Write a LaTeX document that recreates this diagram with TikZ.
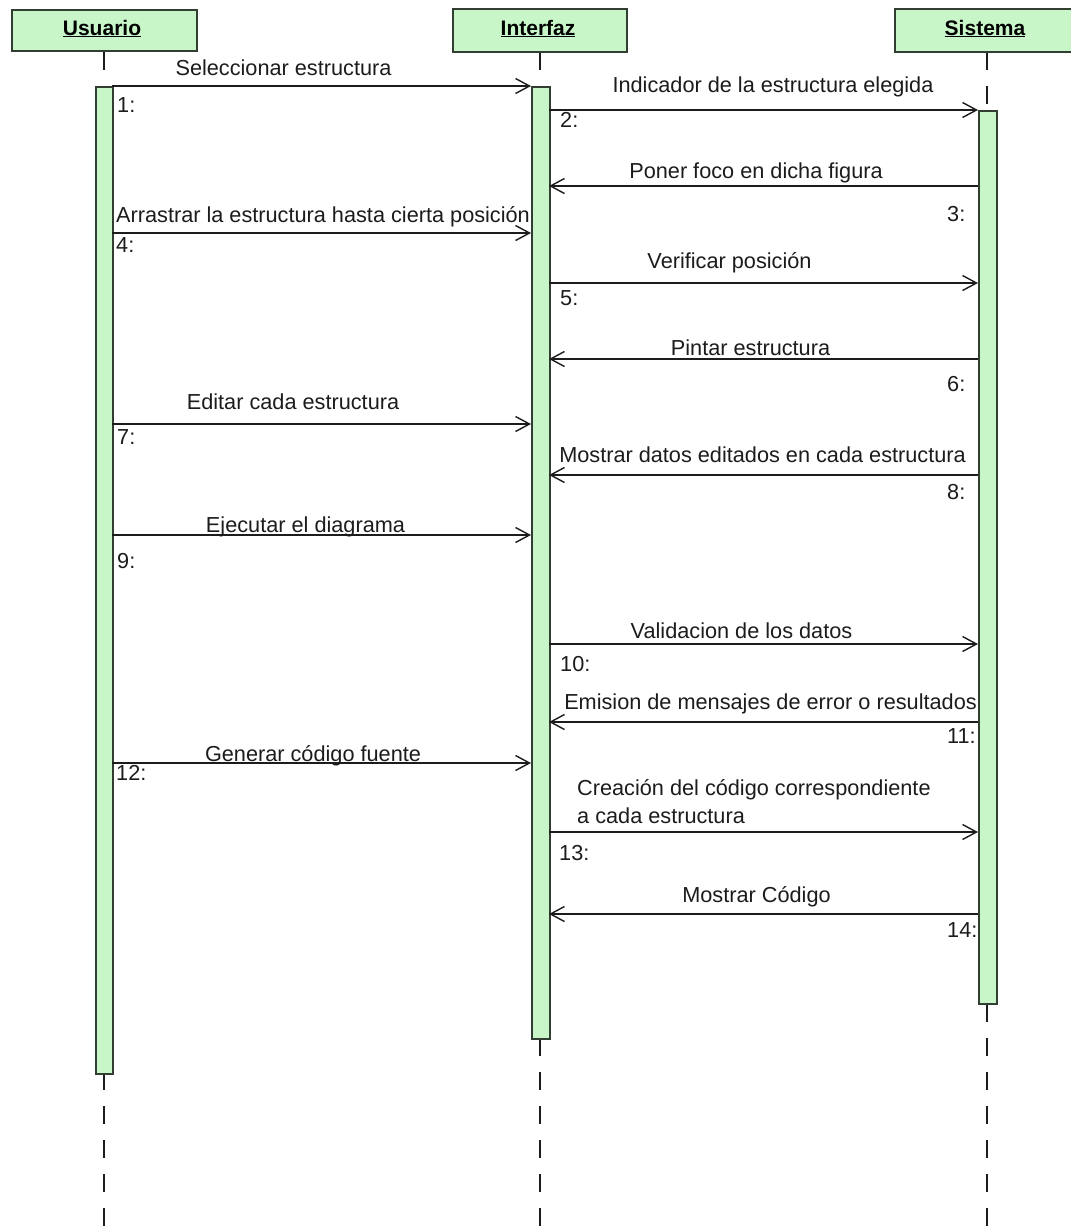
\documentclass[tikz,border=0pt]{standalone}
\usepackage{fontspec}
\setmainfont{Liberation Sans}
\usetikzlibrary{arrows.meta}
\definecolor{mint}{RGB}{200,246,200}
\definecolor{edge}{RGB}{50,62,50}
\definecolor{ink}{RGB}{28,28,28}
\begin{document}
\begin{tikzpicture}[x=1pt,y=-1pt,
  hdr/.style={draw=edge,fill=mint,line width=1.6pt},
  bar/.style={draw=edge,fill=mint,line width=1.6pt},
  life/.style={draw=ink,line width=1.4pt,dash pattern=on 18pt off 16pt},
  msg/.style={draw=ink,line width=1.4pt,-{Straight Barb[length=14pt,width=15pt,line width=1.4pt]}},
  txt/.style={inner sep=0pt,anchor=base,text=ink,font=\fontsize{21.7}{27}\selectfont},
  num/.style={inner sep=0pt,anchor=base west,text=ink,font=\fontsize{21.7}{27}\selectfont},
  htxt/.style={inner sep=0pt,anchor=base,text=black,font=\fontsize{21}{25}\selectfont\bfseries}]
\useasboundingbox (0,0) rectangle (1071,1232);
\fill[white] (0,0) rectangle (1071,1232);
\begin{scope}
\clip (0,0) rectangle (1071,1232);

% lifelines
\draw[life] (104,52) -- (104,1232);
\draw[life] (540,52) -- (540,1232);
\draw[life] (987,52) -- (987,1232);

% object headers
\draw[hdr] (12,10) rectangle (197,51);
\node[htxt] (usuario) at (102,35) {\underline{Usuario}};
\draw[hdr] (453,9) rectangle (627,52);
\node[htxt] (interfaz) at (538,35) {\underline{Interfaz}};
\draw[hdr] (895,9) rectangle (1085,52);
\node[htxt] (sistema) at (985,35) {\underline{Sistema}};

% activation bars
\node[bar,inner sep=0pt,minimum width=17pt,minimum height=987pt,anchor=north west] (barU) at (95,86) {};
\node[bar,inner sep=0pt,minimum width=18pt,minimum height=952pt,anchor=north west] (barI) at (531,86) {};
\node[bar,inner sep=0pt,minimum width=18pt,minimum height=893pt,anchor=north west] (barS) at (978,110) {};
\end{scope}

% message end points
\foreach \i/\y in {1/86,4/233,7/424,9/535,12/763}{
  \coordinate (u\i) at (112,\y);
  \coordinate (iL\i) at (531,\y);
}
\foreach \i/\y in {2/110,3/186,5/283,6/359,8/475,10/644,11/722,13/832,14/914}{
  \coordinate (iR\i) at (549,\y);
  \coordinate (s\i) at (978,\y);
}

% messages
\draw[msg] (u1) -- (iL1);
\draw[msg] (iR2) -- (s2);
\draw[msg] (s3) -- (iR3);
\draw[msg] (u4) -- (iL4);
\draw[msg] (iR5) -- (s5);
\draw[msg] (s6) -- (iR6);
\draw[msg] (u7) -- (iL7);
\draw[msg] (s8) -- (iR8);
\draw[msg] (u9) -- (iL9);
\draw[msg] (iR10) -- (s10);
\draw[msg] (s11) -- (iR11);
\draw[msg] (u12) -- (iL12);
\draw[msg] (iR13) -- (s13);
\draw[msg] (s14) -- (iR14);

% message names
\node[txt] (t1) at (283.5,75) {Seleccionar estructura};
\node[txt] (t2) at (773,92) {Indicador de la estructura elegida};
\node[txt] (t3) at (756,178) {Poner foco en dicha figura};
\node[txt] (t4) at (323,222) {Arrastrar la estructura hasta cierta posición};
\node[txt] (t5) at (729.5,268) {Verificar posición};
\node[txt] (t6) at (750.5,355) {Pintar estructura};
\node[txt] (t7) at (293,409) {Editar cada estructura};
\node[txt] (t8) at (762.5,462) {Mostrar datos editados en cada estructura};
\node[txt] (t9) at (305.5,532) {Ejecutar el diagrama};
\node[txt] (t10) at (741.5,638) {Validacion de los datos};
\node[txt] (t11) at (770.5,709) {Emision de mensajes de error o resultados};
\node[txt] (t12) at (313,761) {Generar código fuente};
\node[num] (t13a) at (577,795) {Creación del código correspondiente};
\node[num] (t13b) at (577,823) {a cada estructura};
\node[txt] (t14) at (756.5,902) {Mostrar Código};

% sequence numbers
\node[num] (n1) at (117,112) {1:};
\node[num] (n2) at (560,127) {2:};
\node[num] (n3) at (947,221) {3:};
\node[num] (n4) at (116,252) {4:};
\node[num] (n5) at (560,305) {5:};
\node[num] (n6) at (947,391) {6:};
\node[num] (n7) at (117,444) {7:};
\node[num] (n8) at (947,499) {8:};
\node[num] (n9) at (117,568) {9:};
\node[num] (n10) at (560,671) {10:};
\node[num] (n11) at (947,743) {11:};
\node[num] (n12) at (116,780) {12:};
\node[num] (n13) at (559,860) {13:};
\node[num] (n14) at (947,937) {14:};
\end{tikzpicture}
\end{document}
